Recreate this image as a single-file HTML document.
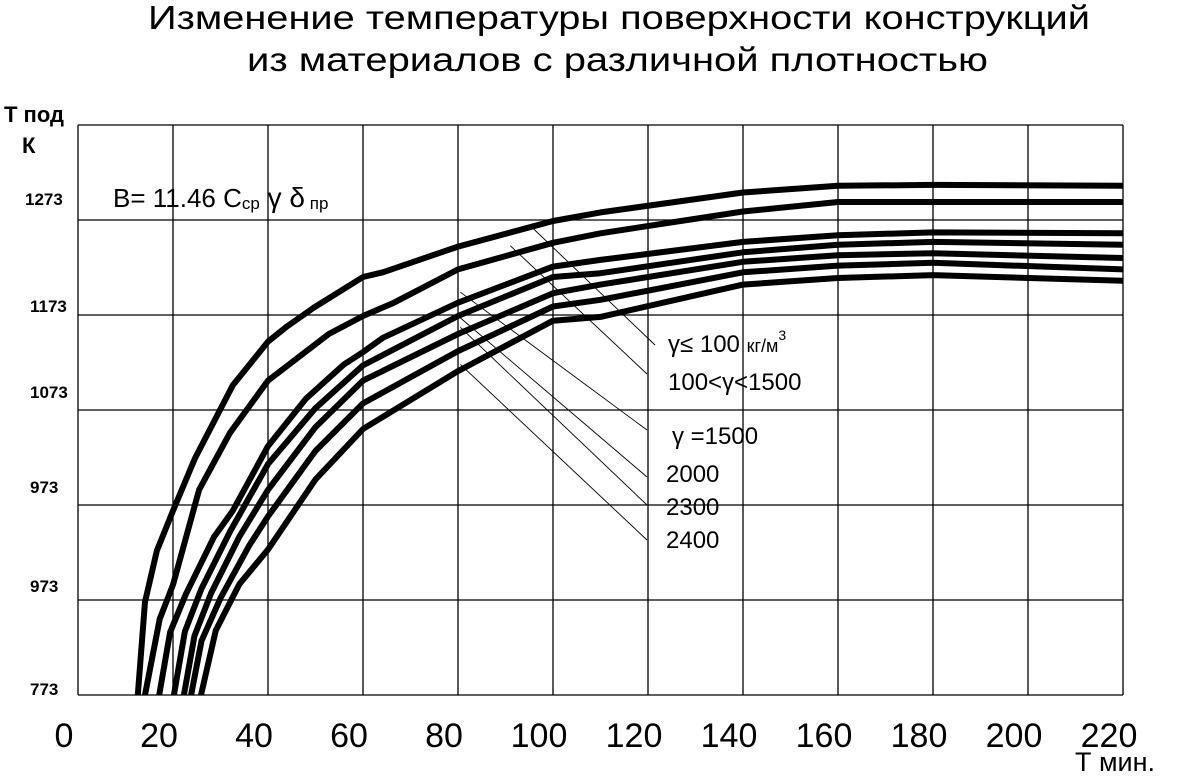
<!DOCTYPE html>
<html><head><meta charset="utf-8"><style>
html,body{margin:0;padding:0;background:#fff;}
svg{display:block;font-family:"Liberation Sans",sans-serif;}
</style></head><body>
<svg id="chart" width="1189" height="781" viewBox="0 0 1189 781" xmlns="http://www.w3.org/2000/svg">
<text x="148" y="29" font-size="33" textLength="942" lengthAdjust="spacingAndGlyphs">Изменение температуры поверхности конструкций</text>
<text x="247" y="71" font-size="33" textLength="741" lengthAdjust="spacingAndGlyphs">из материалов с различной плотностью</text>
<g id="grid"></g>
<g id="ticks"></g>
<g id="leaders"></g>
<g id="series"></g>
<text x="4" y="122" font-size="22" font-weight="bold">Т под</text>
<text x="22" y="153" font-size="22" font-weight="bold">К</text>
<text x="1075" y="771" font-size="27">Т мин.</text>
<text x="113" y="207" font-size="26">B= 11.46 C<tspan font-size="17" dy="2">ср</tspan><tspan font-size="28" dy="-2"> γ δ</tspan><tspan font-size="17" dy="2"> пр</tspan></text>
<g font-size="24">
<text x="668" y="352">γ≤ 100 <tspan font-size="18">кг/м</tspan><tspan font-size="14" dy="-12">3</tspan></text>
<text x="668" y="390">100&lt;γ&lt;1500</text>
<text x="672" y="444">γ =1500</text>
<text x="666" y="482">2000</text>
<text x="666" y="515">2300</text>
<text x="666" y="548">2400</text>
</g>
</svg>
<script>
const xTicks = [0,20,40,60,80,100,120,140,160,180,200,220];
const yGrid = [773,873,973,1073,1173,1273,1373];
const yTickLabels = ["773","973","973","1073","1173","1273"];
const t1 = [12.6,14.1,16.6,20,24.6,32.6,40,44,49.7,60,64.2,80,100,110,140,160,180,220];
const k1 = [773,871,925,967,1022,1099,1145,1161,1181,1213,1218,1245,1272,1281,1302,1309,1310,1309];
const t2 = [14.1,17.2,20,25.5,32,40,52.8,60,66.5,80,100,110,140,160,180,220];
const k2 = [773,853,889,989,1049,1104,1153,1172,1186,1221,1249,1259,1282,1292,1292,1292];
const t3 = [17.1,19.4,22.7,28.6,32.6,40,48,56,60,64.2,80,100,110,140,160,180,220];
const k3 = [773,839,879,939,967,1035,1085,1121,1134,1149,1186,1224,1231,1250,1257,1260,1259];
const t4 = [20.2,22.5,26,32,40,50,60,80,100,110,140,160,180,220];
const k4 = [773,840,885,945,1016,1075,1120,1172,1213,1217,1239,1247,1250,1247];
const t5 = [22.3,24.5,28,34,40,50,60,80,100,110,140,160,180,220];
const k5 = [773,835,880,940,989,1055,1104,1153,1196,1205,1229,1236,1238,1233];
const t6 = [23.8,26,30,36,40,50,60,80,100,110,140,160,180,220];
const k6 = [773,830,875,930,961,1030,1080,1135,1182,1189,1218,1225,1228,1221];
const t7 = [25.9,29,34,40,50,60,80,100,110,140,160,180,220];
const k7 = [773,841,890,926,1000,1053,1114,1167,1171,1205,1212,1215,1209];
const leaderT = [95,91,80.5,80.5,80.5,80.5];
const leaderK = [1268,1246,1197,1170,1160,1121];

const NS="http://www.w3.org/2000/svg";
function X(t){return 78+t*4.75;}
function Y(k){return 695-(k-773)*0.95;}
function mk(tag,parent,attrs){const e=document.createElementNS(NS,tag);for(const a in attrs)e.setAttribute(a,attrs[a]);parent.appendChild(e);return e;}
const grid=document.getElementById('grid'), ticks=document.getElementById('ticks');
xTicks.forEach((t,i)=>{
  const l=mk('line',grid,{x1:X(t),x2:X(t),y1:Y(1373),y2:Y(773),stroke:'#000','stroke-width':1.3});
  
  
  const tx=mk('text',ticks,{x:X(t)-14,y:747,'font-size':34,'text-anchor':'middle'});
  
  
  tx.textContent=String(t);
});
yGrid.forEach(k=>{
  const l=mk('line',grid,{x1:X(0),x2:X(220),y1:Y(k),y2:Y(k),stroke:'#000','stroke-width':1.3});
  
  
});
yTickLabels.forEach((s,i)=>{
  const tx=mk('text',ticks,{x:[30,30,30,30,30,25][i],y:Y(yGrid[i])-[0,8,12,12,3,15][i],'font-size':17,'font-weight':'bold'});
  
  
  tx.textContent=s;
});
const leaders=document.getElementById('leaders');
const ends=[[655,345],[647,374],[647,430],[647,477],[647,505],[647,540]];
leaderT.forEach((t,i)=>{
  const l=mk('line',leaders,{x1:X(t),y1:Y(leaderK[i]),x2:ends[i][0],y2:ends[i][1],stroke:'#000','stroke-width':0.9});
  
  
});
const series=document.getElementById('series');
[[t1,k1],[t2,k2],[t3,k3],[t4,k4],[t5,k5],[t6,k6],[t7,k7]].forEach(([ts,ks],i)=>{
  const pts=ts.map((t,j)=>X(t).toFixed(1)+','+Y(ks[j]).toFixed(1)).join(' ');
  const p=mk('polyline',series,{points:pts,fill:'none',stroke:'#000','stroke-width':6,'stroke-linejoin':'round'});
  
  
});
</script>
</body></html>
